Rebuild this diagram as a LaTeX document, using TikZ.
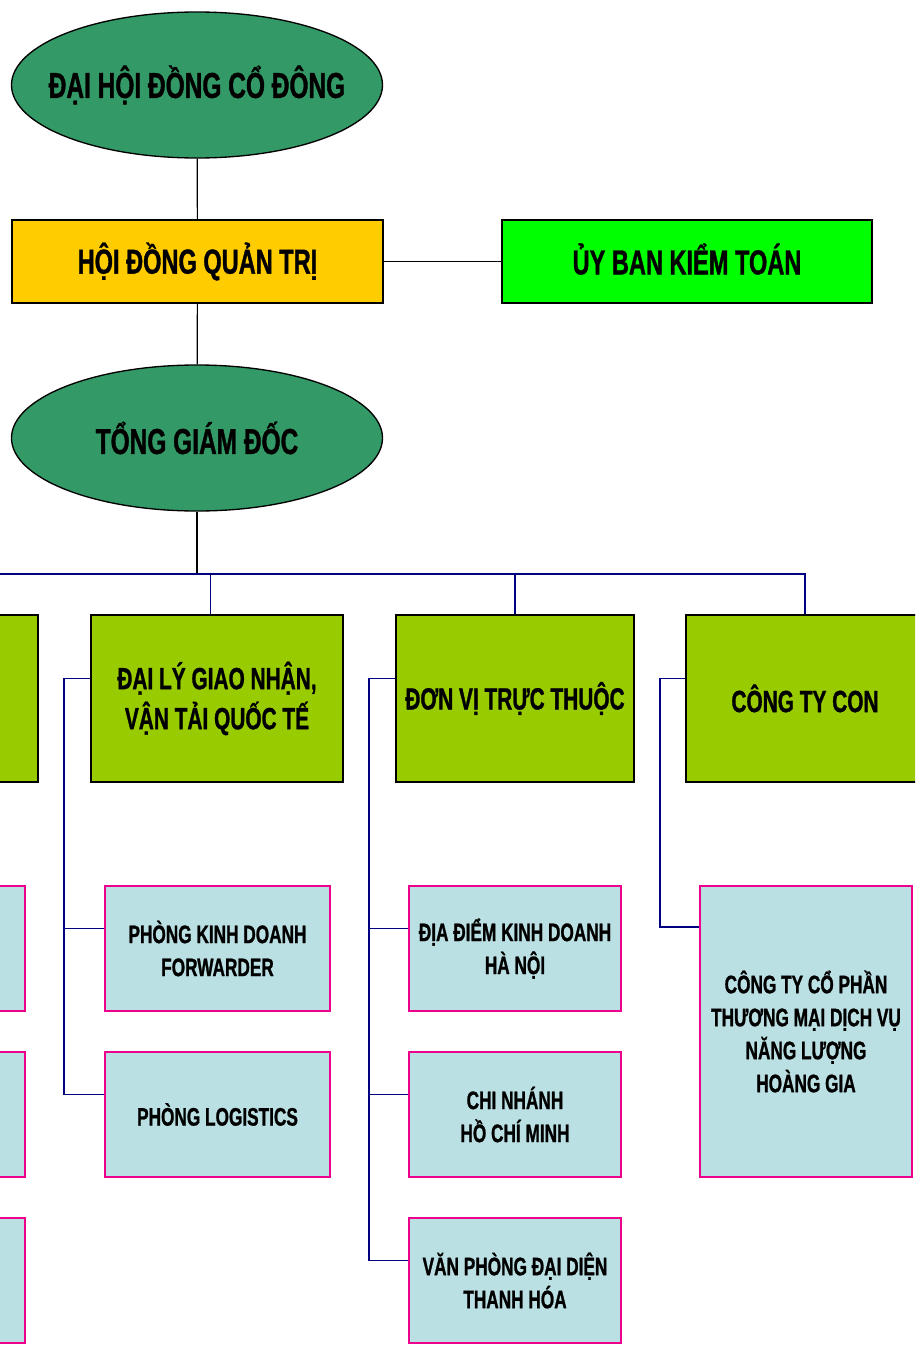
\documentclass[tikz,border=0pt]{standalone}
\usepackage{fontspec}
\setmainfont{Liberation Sans}[FakeStretch=0.68,BoldFeatures={FakeBold=1}]
\usetikzlibrary{shapes.geometric,positioning}
\definecolor{ovalgreen}{HTML}{339966}
\definecolor{boardyellow}{HTML}{FFCC00}
\definecolor{auditgreen}{HTML}{00FF00}
\definecolor{unitgreen}{HTML}{99CC00}
\definecolor{subblue}{HTML}{BBE0E3}
\definecolor{busnavy}{HTML}{000080}
\begin{document}
\begin{tikzpicture}[x=0.75pt,y=-0.75pt,node distance=29.25pt]
  \tikzstyle{oval}=[ellipse,draw,fill=ovalgreen,line width=1pt,minimum width=278.25pt,minimum height=109.5pt,inner ysep=0pt,inner xsep=-20pt,font=\bfseries\fontsize{27}{32}\selectfont]
  \tikzstyle{topbox}=[draw,line width=1.2pt,minimum width=278.25pt,minimum height=62.25pt,inner sep=2pt,font=\bfseries\fontsize{26}{32}\selectfont]
  \tikzstyle{unit}=[draw,fill=unitgreen,line width=1.2pt,minimum width=178.5pt,minimum height=125.25pt,inner sep=2pt,align=center,font=\bfseries\fontsize{23}{30}\selectfont]
  \tikzstyle{sub}=[draw=magenta,fill=subblue,line width=1.5pt,minimum width=159pt,minimum height=93.75pt,inner sep=2pt,align=center,font=\bfseries\fontsize{19}{24.75}\selectfont]
  \tikzstyle{link}=[line width=0.9pt]
  \tikzstyle{bus}=[draw=busnavy,line width=1.2pt]
  \useasboundingbox (0,0) rectangle (915,1345);
  \clip (0,0) rectangle (915,1345);
  \node[oval] (dhcd) at (197,85) {ĐẠI HỘI ĐỒNG CỔ ĐÔNG};
  \node[topbox,fill=boardyellow] (hdqt) at (197.5,261.5) {\raisebox{4pt}{HỘI ĐỒNG QUẢN TRỊ}};
  \node[topbox,fill=auditgreen,minimum width=277.5pt] (ubkt) at (687,261.5) {\raisebox{4pt}{ỦY BAN KIỂM TOÁN}};
  \node[oval] (tgd) at (197,438) {TỔNG GIÁM ĐỐC};
  \node[unit,minimum width=180pt] (kh) at (-82,698.5) {};
  \node[unit,minimum width=189pt] (dl) at (217,698.5) {ĐẠI LÝ GIAO NHẬN,\\VẬN TẢI QUỐC TẾ};
  \node[unit] (dv) at (515,698.5) {ĐƠN VỊ TRỰC THUỘC};
  \node[unit] (cty) at (805,698.5) {CÔNG TY CON};
  \node[sub] (kh1) at (-81,948.5) {};
  \node[sub,below=of kh1] (kh2) {};
  \node[sub,below=of kh2] (kh3) {};
  \node[sub,minimum width=168.75pt] (pkd) at (217.5,948.5) {PHÒNG KINH DOANH\\FORWARDER};
  \node[sub,minimum width=168.75pt,below=of pkd] (plg) {PHÒNG LOGISTICS};
  \node[sub] (hn) at (515,948.5) {ĐỊA ĐIỂM KINH DOANH\\HÀ NỘI};
  \node[sub,below=of hn] (hcm) {CHI NHÁNH\\HỒ CHÍ MINH};
  \node[sub,below=of hcm] (th) {VĂN PHÒNG ĐẠI DIỆN\\THANH HÓA};
  \node[sub,minimum height=218.25pt] (hg) at (806,1031.5) {CÔNG TY CỔ PHẦN\\THƯƠNG MẠI DỊCH VỤ\\NĂNG LƯỢNG\\HOÀNG GIA};
  \draw[link] (dhcd) -- (hdqt);
  \draw[link] (hdqt) -- (ubkt);
  \draw[link] (hdqt) -- (tgd);
  \coordinate (bus) at (0,574);
  \draw[link] (tgd) -- (tgd |- bus);
  \draw[bus] (kh.north) -- (kh.north |- bus) -| (cty.north);
  \draw[bus] ([xshift=-5pt]dl.north |- bus) -- ([xshift=-5pt]dl.north);
  \draw[bus] (dv.north |- bus) -- (dv.north);
  \foreach \u/\s in {kh/kh1,kh/kh2,kh/kh3,dl/pkd,dl/plg,dv/hn,dv/hcm,dv/th}
    \draw[bus] ([yshift=15pt]\u.west) -- ++(-26,0) |- ([yshift=15pt]\s.west);
  \draw[bus] ([yshift=15pt]cty.west) -- ++(-25,0) |- ([yshift=-31.5pt]hg.north west);
\end{tikzpicture}
\end{document}
